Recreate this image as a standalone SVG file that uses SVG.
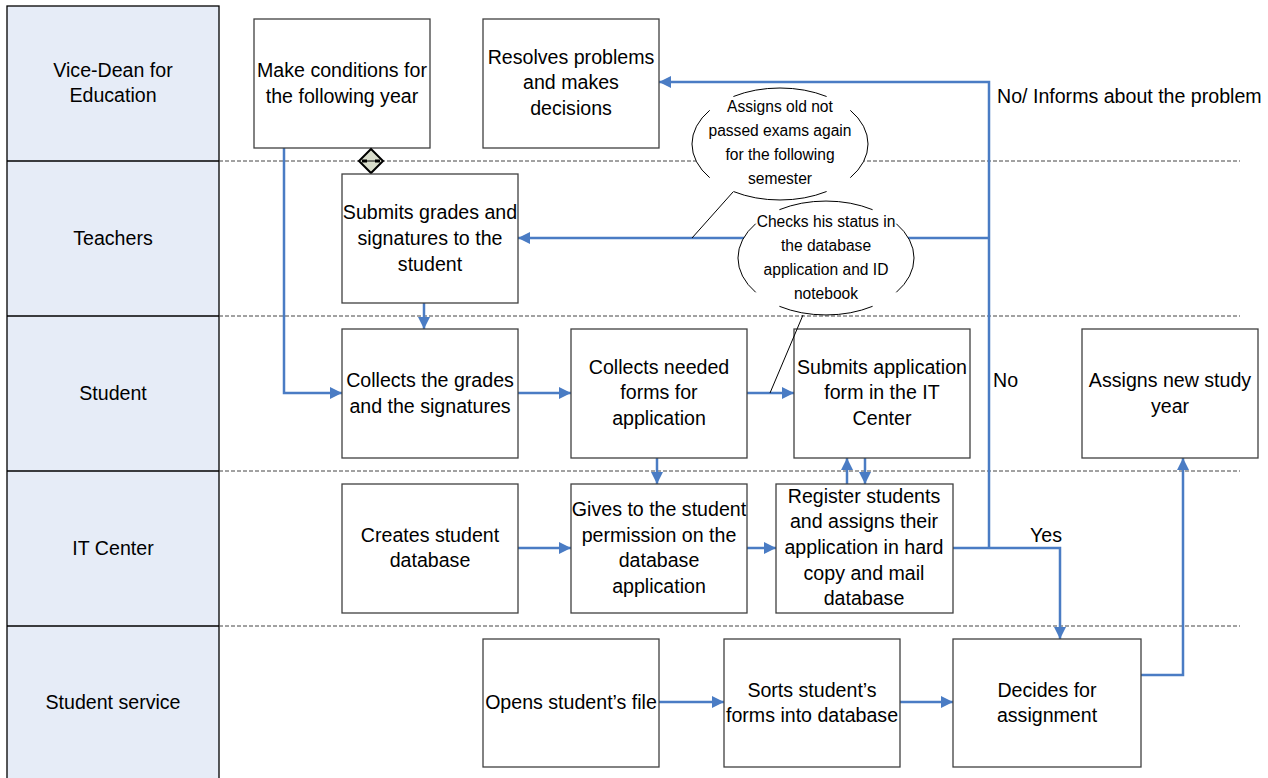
<svg xmlns="http://www.w3.org/2000/svg" width="1268" height="778" viewBox="0 0 1268 778">
<style>
.lane{fill:#e6ecf7;stroke:#000;stroke-width:1.3}
.lt{font-family:"Liberation Sans",Arial,sans-serif;font-size:19.6px;fill:#000;text-anchor:middle}
.box{fill:#fff;stroke:#404040;stroke-width:1.3}
.bt{font-family:"Liberation Sans",Arial,sans-serif;font-size:19.6px;fill:#000;text-anchor:middle}
.ct{font-family:"Liberation Sans",Arial,sans-serif;font-size:15.6px;fill:#000;text-anchor:middle}
.dash{stroke:#444;stroke-width:1;stroke-dasharray:4 2;fill:none}
.con{stroke:#4a7cc4;stroke-width:2.5;fill:none}
.arr{stroke:#4a7cc4;stroke-width:2.5;fill:none;marker-end:url(#ah)}
.co{fill:none;stroke:#000;stroke-width:1}
</style>
<defs>
<marker id="ah" markerUnits="userSpaceOnUse" markerWidth="13" markerHeight="13" refX="12" refY="6" orient="auto">
<path d="M0,0 L12,6 L0,12 z" fill="#4a7cc4"/>
</marker>
</defs>
<rect width="1268" height="778" fill="#fff"/>
<g id="lanes">
<rect class="lane" x="7" y="6" width="212" height="780"/>
<line x1="7" y1="161" x2="219" y2="161" stroke="#000" stroke-width="1.3"/>
<line x1="7" y1="316" x2="219" y2="316" stroke="#000" stroke-width="1.3"/>
<line x1="7" y1="471" x2="219" y2="471" stroke="#000" stroke-width="1.3"/>
<line x1="7" y1="626" x2="219" y2="626" stroke="#000" stroke-width="1.3"/>
<text class="lt" x="113" y="77">Vice-Dean for</text>
<text class="lt" x="113" y="102">Education</text>
<text class="lt" x="113" y="245">Teachers</text>
<text class="lt" x="113" y="400">Student</text>
<text class="lt" x="113" y="555">IT Center</text>
<text class="lt" x="113" y="709">Student service</text>
<line class="dash" x1="219" y1="161" x2="1240" y2="161"/>
<line class="dash" x1="219" y1="316" x2="1240" y2="316"/>
<line class="dash" x1="219" y1="471" x2="1240" y2="471"/>
<line class="dash" x1="219" y1="626" x2="1240" y2="626"/>
</g>
<g id="connectors">
<polyline class="arr" points="284,148 284,393 342,393"/>
<line class="arr" x1="424" y1="303" x2="424" y2="329"/>
<line class="arr" x1="518" y1="393" x2="571" y2="393"/>
<line class="arr" x1="747" y1="393" x2="794" y2="393"/>
<line class="arr" x1="657" y1="458" x2="657" y2="484"/>
<line class="arr" x1="518" y1="548" x2="571" y2="548"/>
<line class="arr" x1="747" y1="548" x2="776" y2="548"/>
<line class="arr" x1="847" y1="484" x2="847" y2="458"/>
<line class="arr" x1="865" y1="458" x2="865" y2="484"/>
<polyline class="arr" points="953,548 1060,548 1060,639"/>
<polyline class="arr" points="989,548 989,82 659,82"/>
<line class="arr" x1="989" y1="238" x2="518" y2="238"/>
<line class="arr" x1="659" y1="702" x2="724" y2="702"/>
<line class="arr" x1="900" y1="702" x2="953" y2="702"/>
<polyline class="arr" points="1141,675 1183,675 1183,458"/>
<text class="bt" x="997" y="103" style="text-anchor:start">No/ Informs about the problem</text>
<text class="bt" x="993" y="387" style="text-anchor:start">No</text>
<text class="bt" x="1030" y="542" style="text-anchor:start">Yes</text>
</g>
<g id="n_make">
<rect class="box" x="254" y="19" width="176" height="129"/>
<text class="bt" x="342" y="77">Make conditions for</text>
<text class="bt" x="342" y="103">the following year</text>
</g>
<g id="n_resolves">
<rect class="box" x="483" y="19" width="176" height="129"/>
<text class="bt" x="571" y="64">Resolves problems</text>
<text class="bt" x="571" y="89">and makes</text>
<text class="bt" x="571" y="115">decisions</text>
</g>
<g id="n_gateway">
<path d="M371,149 L383,161 L371,173 L359,161 z" fill="#d8dccb" stroke="#000" stroke-width="2"/>
<rect x="362" y="159.5" width="5" height="3" fill="#000"/>
<rect x="375" y="159.5" width="5" height="3" fill="#000"/>
<line x1="367" y1="161" x2="375" y2="161" stroke="#000" stroke-width="1"/>
</g>
<g id="n_submitgrades">
<rect class="box" x="342" y="174" width="176" height="129"/>
<text class="bt" x="430" y="219">Submits grades and</text>
<text class="bt" x="430" y="245">signatures to the</text>
<text class="bt" x="430" y="271">student</text>
</g>
<g id="n_collectgrades">
<rect class="box" x="342" y="329" width="176" height="129"/>
<text class="bt" x="430" y="387">Collects the grades</text>
<text class="bt" x="430" y="413">and the signatures</text>
</g>
<g id="n_collectforms">
<rect class="box" x="571" y="329" width="176" height="129"/>
<text class="bt" x="659" y="374">Collects needed</text>
<text class="bt" x="659" y="399">forms for</text>
<text class="bt" x="659" y="425">application</text>
</g>
<g id="n_submitapp">
<rect class="box" x="794" y="329" width="176" height="129"/>
<text class="bt" x="882" y="374">Submits application</text>
<text class="bt" x="882" y="399">form in the IT</text>
<text class="bt" x="882" y="425">Center</text>
</g>
<g id="n_assigns">
<rect class="box" x="1082" y="329" width="176" height="129"/>
<text class="bt" x="1170" y="387">Assigns new study</text>
<text class="bt" x="1170" y="413">year</text>
</g>
<g id="n_creates">
<rect class="box" x="342" y="484" width="176" height="129"/>
<text class="bt" x="430" y="542">Creates student</text>
<text class="bt" x="430" y="567">database</text>
</g>
<g id="n_gives">
<rect class="box" x="571" y="484" width="176" height="129"/>
<text class="bt" x="659" y="516">Gives to the student</text>
<text class="bt" x="659" y="542">permission on the</text>
<text class="bt" x="659" y="567">database</text>
<text class="bt" x="659" y="593">application</text>
</g>
<g id="n_register">
<rect class="box" x="776" y="484" width="177" height="129"/>
<text class="bt" x="864" y="503">Register students</text>
<text class="bt" x="864" y="528">and assigns their</text>
<text class="bt" x="864" y="554">application in hard</text>
<text class="bt" x="864" y="580">copy and mail</text>
<text class="bt" x="864" y="605">database</text>
</g>
<g id="n_opens">
<rect class="box" x="483" y="639" width="176" height="128"/>
<text class="bt" x="571" y="709">Opens student’s file</text>
</g>
<g id="n_sorts">
<rect class="box" x="724" y="639" width="176" height="128"/>
<text class="bt" x="812" y="697">Sorts student’s</text>
<text class="bt" x="812" y="722">forms into database</text>
</g>
<g id="n_decides">
<rect class="box" x="953" y="639" width="188" height="128"/>
<text class="bt" x="1047" y="697">Decides for</text>
<text class="bt" x="1047" y="722">assignment</text>
</g>
<g id="callout1">
<ellipse cx="780" cy="144" rx="88" ry="56" fill="#fff"/>
<path class="co" d="M733.4,96.5 A88,56 0 0 1 826.6,96.5 M850.3,110.3 A88,56 0 0 1 850.3,177.7 M826.6,191.5 A88,56 0 0 1 733.4,191.5 M709.7,177.7 A88,56 0 0 1 709.7,110.3"/>
<line class="co" x1="733" y1="192" x2="692" y2="238"/>
<text class="ct" x="780" y="112">Assigns old not</text>
<text class="ct" x="780" y="136">passed exams again</text>
<text class="ct" x="780" y="160">for the following</text>
<text class="ct" x="780" y="184">semester</text>
</g>
<g id="callout2">
<ellipse cx="826" cy="258" rx="88" ry="57" fill="#fff"/>
<path class="co" d="M779.4,209.7 A88,57 0 0 1 872.6,209.7 M896.3,223.7 A88,57 0 0 1 896.3,292.3 M872.6,306.3 A88,57 0 0 1 779.4,306.3 M755.7,292.3 A88,57 0 0 1 755.7,223.7"/>
<line class="co" x1="803" y1="315" x2="770" y2="393"/>
<text class="ct" x="826" y="227">Checks his status in</text>
<text class="ct" x="826" y="251">the database</text>
<text class="ct" x="826" y="275">application and ID</text>
<text class="ct" x="826" y="299">notebook</text>
</g>
</svg>
